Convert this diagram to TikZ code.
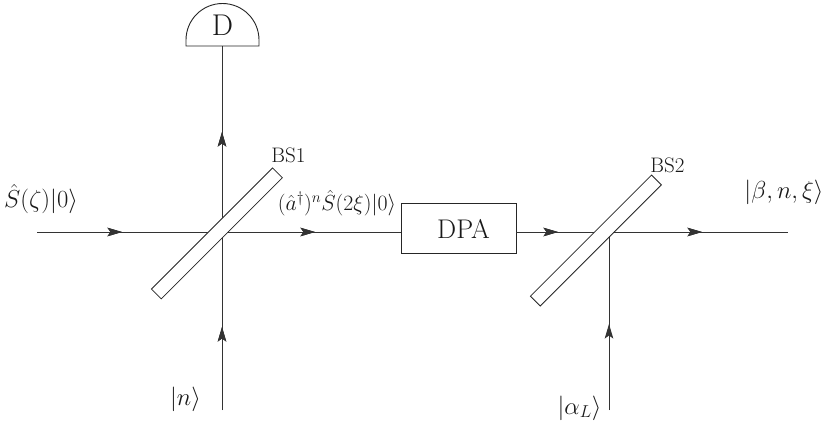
\RequirePackage{fix-cm}
\documentclass[tikz,border=0pt]{standalone}
\usetikzlibrary{arrows.meta,decorations.markings}
\tikzset{
  beam/.style={line width=1pt,draw=black!80},
  thin line/.style={line width=0.8pt,draw=black!85},
  tipmark/.style={postaction={decorate},decoration={markings,
    mark=at position #1 with {\arrow{Stealth[length=14.5pt,width=8.5pt,inset=3pt]}}}},
  split/.style={thin line,fill=white,rotate=45,minimum width=171.3pt,minimum height=13.9pt,inner sep=0pt,outer sep=0pt},
  lab/.style={inner sep=0pt,outer sep=0pt,text=black!90},
  big/.style={lab,font=\fontsize{24.6}{28}\selectfont},
  mid/.style={lab,font=\fontsize{21.8}{25}\selectfont},
  small/.style={lab,font=\fontsize{21}{25}\selectfont},
  box label/.style={lab,font=\fontsize{27}{31}\selectfont},
  det label/.style={lab,font=\fontsize{30}{34}\selectfont}
}
\begin{document}
\begin{tikzpicture}[x=1pt,y=-1pt]
\useasboundingbox (0,0) rectangle (830,423);
\fill[white] (0,0) rectangle (830,423);
% anchors
\coordinate (inL) at (37,232);
\coordinate (outR) at (788,232);
\coordinate (inN) at (222,410);
\coordinate (inA) at (609,410);
\coordinate (det) at (222,46);
\coordinate (bsTwoHit) at (609,232);
\node[thin line,draw,minimum width=115pt,minimum height=50pt,inner sep=0pt,outer sep=0pt] (dpa) at (458.5,228) {};
\node[box label] (dpalabel) at (463.5,228.5) {DPA};
% beams
\draw[beam,tipmark=85pt,tipmark=278pt] (inL) -- (inL -| dpa.west);
\draw[beam,tipmark=42pt,tipmark=186pt] (dpa.east |- outR) -- (outR);
\draw[beam,tipmark=83pt,tipmark=278pt] (inN) -- (det);
\draw[beam,tipmark=86pt] (inA) -- (bsTwoHit);
% beam splitters
\node[split,draw] (bsone) at (216.9,233.4) {};
\node[split,draw] (bstwo) at (595.9,240.5) {};
% detector
\draw[thin line,line width=0.9pt] (186,46) -- (186,40) arc[start angle=180,end angle=360,radius=36.5] -- (259,46) -- cycle;
\node[det label] (dlabel) at (222.5,25) {D};
% labels
\node[big] (lzeta) at (41,199) {$\hat S(\zeta)|0\rangle$};
\node[mid] (lmid) at (337,203) {$(\hat a^\dagger)^n\hat S(2\xi)|0\rangle$};
\node[small] (lbsone) at (288.5,155) {BS1};
\node[small] (lbstwo) at (667.5,165) {BS2};
\node[big] (lout) at (784,192) {$|\beta,n,\xi\rangle$};
\node[big] (ln) at (185.5,399) {$|n\rangle$};
\node[big] (lalpha) at (579.5,408) {$|\alpha_L\rangle$};
\end{tikzpicture}
\end{document}
